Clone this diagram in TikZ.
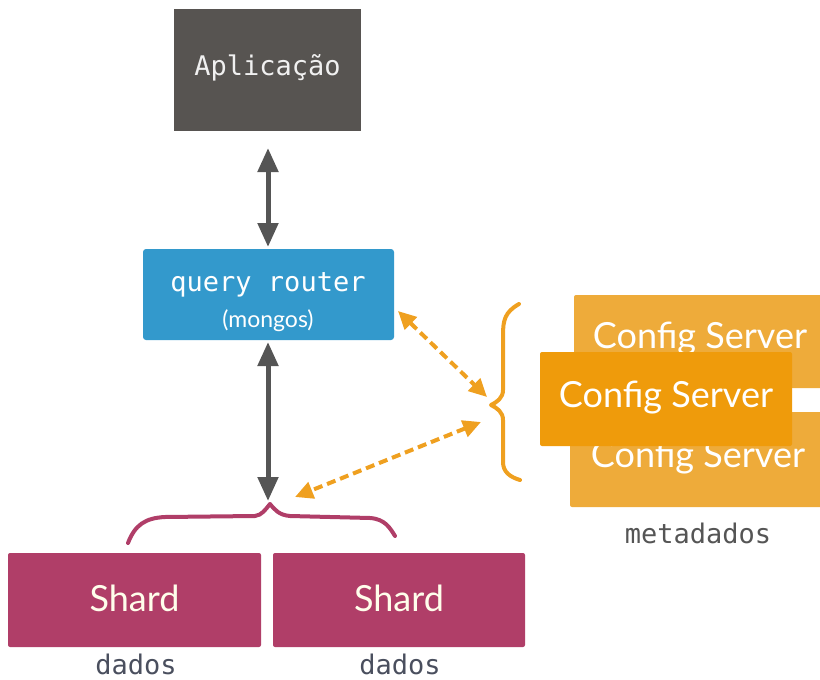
\documentclass[tikz,border=0pt]{standalone}
\usepackage{fontspec}
\setmainfont{Lato}
\newfontfamily\monof{DejaVu Sans Mono}
\usetikzlibrary{arrows.meta}
\definecolor{appgray}{HTML}{575451}
\definecolor{routerblue}{HTML}{3399CC}
\definecolor{shardred}{HTML}{B03E68}
\definecolor{cfgback}{HTML}{EEAB3A}
\definecolor{cfgfront}{HTML}{EF9B0B}
\definecolor{arrgray}{HTML}{555555}
\definecolor{arrorange}{HTML}{EFA020}
\definecolor{labgray}{HTML}{4A4F5E}
\tikzset{
  box/.style={inner sep=0pt, minimum width=#1, text=white},
  monotext/.style={font=\monof\fontsize{27}{32}\selectfont},
  humtext/.style={font=\fontsize{36}{42}\selectfont},
  grayarrow/.style={draw=arrgray, line width=5pt, {Triangle[width=20pt,length=24pt]}-{Triangle[width=20pt,length=24pt]}},
  orangearrow/.style={draw=arrorange, line width=4pt, dash pattern=on 9pt off 5pt, {Triangle[width=17pt,length=18pt]}-{Triangle[width=17pt,length=18pt]}},
  brace/.style={line width=4pt, line cap=round, line join=round}
}
\begin{document}
\begin{tikzpicture}[x=1pt,y=-1pt]
\useasboundingbox (0,0) rectangle (820,680);
% application
\fill[appgray] (174,9) rectangle (361,131);
\node[monotext, text=white!94!black] (app) at (267.5,68) {Aplicação};
\coordinate (appS) at (268,148);
% router
\fill[routerblue, rounded corners=3pt] (143,249) rectangle (394,340);
\node[monotext, text=white] (router) at (268,285) {query router};
\node[font=\fontsize{23}{27}\selectfont, text=white] (mongos) at (268,321) {(mongos)};
\coordinate (routerN) at (268,247);
\coordinate (routerS) at (268,342);
\coordinate (routerE) at (398,311);
% gray arrows
\draw[grayarrow] (appS) -- (routerN);
\coordinate (shardtip) at (268,501);
\draw[grayarrow] (routerS) -- (shardtip);
% purple brace
\draw[brace, shardred] (128,543) .. controls (135,525) and (145,518) .. (165,517)
  -- (255,516) .. controls (262,515) and (265,510) .. (270,504)
  .. controls (275,510) and (279,515) .. (290,516)
  -- (370,518) .. controls (385,519) and (390,528) .. (395,536);
% shards
\fill[shardred, rounded corners=2pt] (8,553) rectangle (261,647);
\fill[shardred, rounded corners=2pt] (273,553) rectangle (525,647);
\node[humtext, text=white!92!yellow] (shard1) at (134.5,598) {Shard};
\node[humtext, text=white!92!yellow] (shard2) at (399,598) {Shard};
\node[monotext, text=labgray] (dados1) at (136,664) {dados};
\node[monotext, text=labgray] (dados2) at (400,664) {dados};
% config servers
\fill[cfgback, rounded corners=2pt] (574,295) rectangle (826,388);
\node[humtext, text=white] (cfg1) at (700,339) {Config Server};
\fill[cfgback, rounded corners=2pt] (570,412) rectangle (826,507);
\node[humtext, text=white] (cfg3) at (698,458) {Config Server};
\fill[cfgfront, rounded corners=2pt] (540,352) rectangle (792,446);
\node[humtext, text=white] (cfg2) at (666,398) {Config Server};
\node[monotext, text=arrgray] (meta) at (698,533) {metadados};
% orange brace
\draw[brace, arrorange] (519,304) .. controls (505,312) and (503,320) .. (503,335)
  -- (503,390) .. controls (503,398) and (497,402) .. (491,405)
  .. controls (497,408) and (503,412) .. (503,420)
  -- (503,462) .. controls (503,472) and (510,477) .. (520,480);
\coordinate (bracetip) at (489,404);
% orange dashed arrows
\draw[orangearrow] (routerE) -- (487,397);
\draw[orangearrow] (481,422) -- (295,497);
\end{tikzpicture}
\end{document}
